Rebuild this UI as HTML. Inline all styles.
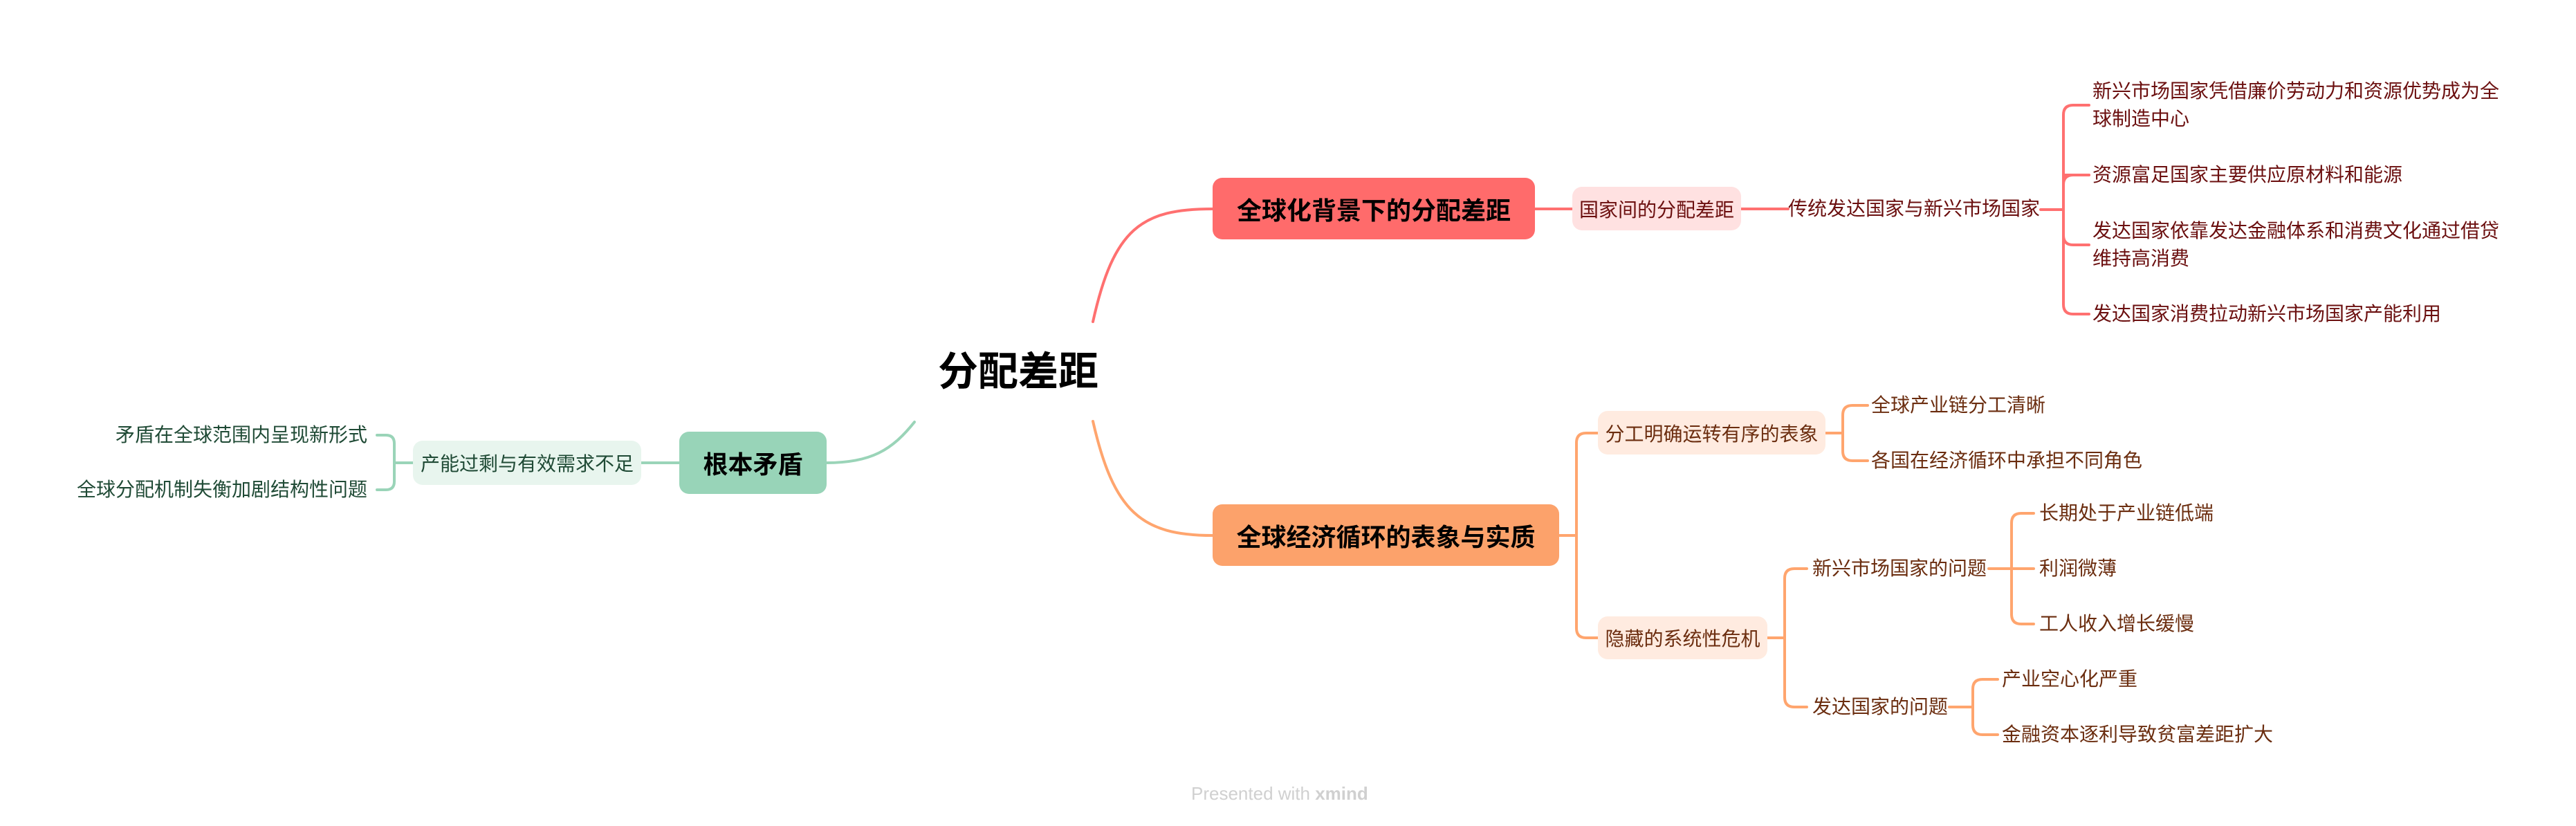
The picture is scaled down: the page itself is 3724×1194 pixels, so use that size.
<!DOCTYPE html>
<html><head><meta charset="utf-8"><style>
html,body{margin:0;padding:0;background:#fff;}
body{width:3724px;height:1194px;position:relative;overflow:hidden;font-family:"Liberation Sans","Noto Sans CJK SC",sans-serif;}
.a{position:absolute;white-space:nowrap;box-sizing:border-box;}
.n{display:flex;align-items:center;justify-content:center;border-radius:14px;}
.t{font-size:28px;line-height:40px;}
.r{color:#6b0f0f}.o{color:#6b2d0f}.g{color:#1f4a35}
</style></head><body>
<svg class="a" style="left:0;top:0" width="3724" height="1194" fill="none" stroke-width="4" stroke-linecap="round">
<g stroke="#ff7070">
<path d="M1580 465 C1610 330 1650 302 1753 302"/>
<path d="M2219 302 H2273"/>
<path d="M2517 302 H2585"/>
<path d="M2950 303 H2983"/>
<path d="M3020 152 H2997 Q2983 152 2983 166 V440 Q2983 454 2997 454 H3020"/>
<path d="M2983 253 Q2983 253 2997 253 H3020" />
<path d="M3020 253 H2997 Q2983 253 2983 267"/>
<path d="M3020 354 H2997 Q2983 354 2983 340"/>
</g>
<g stroke="#ffa56e">
<path d="M1580 609 C1610 740 1650 774 1753 774"/>
<path d="M2254 774 H2279"/>
<path d="M2310 626 H2293 Q2279 626 2279 640 V908 Q2279 922 2293 922 H2310"/>
<path d="M2639 626 H2664"/>
<path d="M2700 586 H2678 Q2664 586 2664 600 V652 Q2664 666 2678 666 H2700"/>
<path d="M2555 922 H2580"/>
<path d="M2612 822 H2594 Q2580 822 2580 836 V1008 Q2580 1022 2594 1022 H2612"/>
<path d="M2875 822 H2940"/>
<path d="M2940 742 H2922 Q2908 742 2908 756 V888 Q2908 902 2922 902 H2940"/>
<path d="M2818 1022 H2852"/>
<path d="M2888 982 H2866 Q2852 982 2852 996 V1048 Q2852 1062 2866 1062 H2888"/>
</g>
<g stroke="#9ad4b8">
<path d="M1322 610 C1290 650 1260 669 1195 669"/>
<path d="M982 669 H927"/>
<path d="M597 669 H570"/>
<path d="M545 629 H558 Q570 629 570 641 V696 Q570 708 558 708 H545"/>
</g>
</svg>

<div class="a" style="left:1356px;top:505px;width:240px;font-size:58px;line-height:66px;font-weight:bold;color:#000;">分配差距</div>

<div class="a n" style="left:1753px;top:257px;width:466px;height:89px;background:#ff6b6b;font-size:36px;font-weight:bold;color:#000;">全球化背景下的分配差距</div>
<div class="a n r" style="left:2273px;top:270px;width:244px;height:63px;background:#ffe1e1;font-size:28px;">国家间的分配差距</div>
<div class="a t r" style="left:2585px;top:282px;">传统发达国家与新兴市场国家</div>
<div class="a t r" style="left:3025px;top:112px;">新兴市场国家凭借廉价劳动力和资源优势成为全<br>球制造中心</div>
<div class="a t r" style="left:3025px;top:233px;">资源富足国家主要供应原材料和能源</div>
<div class="a t r" style="left:3025px;top:314px;">发达国家依靠发达金融体系和消费文化通过借贷<br>维持高消费</div>
<div class="a t r" style="left:3025px;top:434px;">发达国家消费拉动新兴市场国家产能利用</div>

<div class="a n" style="left:1753px;top:729px;width:501px;height:89px;background:#fca26b;font-size:36px;font-weight:bold;color:#000;">全球经济循环的表象与实质</div>
<div class="a n o" style="left:2310px;top:594px;width:329px;height:63px;background:#ffebe0;font-size:28px;">分工明确运转有序的表象</div>
<div class="a t o" style="left:2705px;top:566px;">全球产业链分工清晰</div>
<div class="a t o" style="left:2705px;top:646px;">各国在经济循环中承担不同角色</div>
<div class="a n o" style="left:2310px;top:891px;width:245px;height:62px;background:#ffebe0;font-size:28px;">隐藏的系统性危机</div>
<div class="a t o" style="left:2620px;top:802px;">新兴市场国家的问题</div>
<div class="a t o" style="left:2948px;top:722px;">长期处于产业链低端</div>
<div class="a t o" style="left:2948px;top:802px;">利润微薄</div>
<div class="a t o" style="left:2948px;top:882px;">工人收入增长缓慢</div>
<div class="a t o" style="left:2620px;top:1002px;">发达国家的问题</div>
<div class="a t o" style="left:2894px;top:962px;">产业空心化严重</div>
<div class="a t o" style="left:2894px;top:1042px;">金融资本逐利导致贫富差距扩大</div>

<div class="a n" style="left:982px;top:624px;width:213px;height:90px;background:#98d4b8;font-size:36px;font-weight:bold;color:#000;">根本矛盾</div>
<div class="a n g" style="left:597px;top:637px;width:330px;height:64px;background:#e8f5ee;font-size:28px;">产能过剩与有效需求不足</div>
<div class="a t g" style="right:3193px;top:609px;text-align:right;">矛盾在全球范围内呈现新形式</div>
<div class="a t g" style="right:3193px;top:688px;text-align:right;">全球分配机制失衡加剧结构性问题</div>

<div class="a" style="left:1722px;top:1131px;font-size:26px;line-height:32px;color:#d0d0d0;">Presented with <b>xmind</b></div>
</body></html>
